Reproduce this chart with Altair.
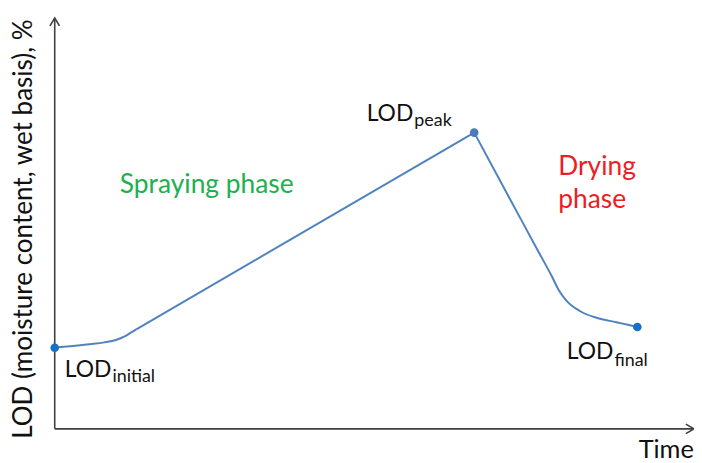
import altair as alt
import pandas as pd

# ---- data (schematic units: time 0..100, LOD in % of peak) ----
# pieces of the curve: initial warm-up, spraying ramp, fast drying, drying decay
curve_seg = ["a"] * 8 + ["b"] * 2 + ["c"] * 2 + ["d"] * 10
curve_time = [0.0, 2.6, 6.0, 8.5, 10.5, 12.0, 13.0, 14.0,
              14.0, 72.0,
              72.0, 80.0,
              80.0, 82.8, 85.3, 86.5, 87.9, 90.2, 93.0, 96.4, 98.2, 100.0]
curve_lod = [27.4, 27.9, 28.6, 29.2, 30.0, 31.2, 32.4, 33.6,
             33.6, 100.0,
             100.0, 70.8,
             70.8, 60.6, 51.6, 46.9, 43.1, 39.7, 37.5, 36.0, 35.2, 34.4]

key_names = ["initial", "peak", "final"]
key_time = [0.0, 72.0, 100.0]
key_lod = [27.4, 100.0, 34.4]
key_colors = ["#1870c4", "#4b7bbd", "#1870c4"]

# label anchors (joint between "LOD" and its subscript)
lab_time = [9.73, 61.55, 95.90]
lab_lod_main = [17.35, 104.03, 23.49]
lab_lod_sub = [15.77, 102.35, 21.24]

phase_text = ["Spraying phase", "Drying", "phase"]
phase_time = [26.09, 86.43, 86.43]
phase_lod = [79.63, 85.57, 74.50]
phase_color = ["#20b04e", "#ee1c25", "#ee1c25"]
phase_align = ["center", "left", "left"]

x_title = "Time"
y_title = "LOD (moisture content, wet basis), %"

X_DOM = [-8.0205, 109.727]
Y_DOM = [-11.074, 141.611]
FONT = "Lato"
AXC = "#404040"

xs = alt.Scale(domain=X_DOM, nice=False, zero=False)
ys = alt.Scale(domain=Y_DOM, nice=False, zero=False)

def X(f):
    return alt.X(f, type="quantitative", scale=xs, axis=None)

def Y(f):
    return alt.Y(f, type="quantitative", scale=ys, axis=None)

curve_df = pd.DataFrame({"seg": curve_seg, "t": curve_time, "lod": curve_lod,
                         "o": range(len(curve_time))})
key_df = pd.DataFrame({"name": key_names, "t": key_time, "lod": key_lod, "c": key_colors,
                       "lt": lab_time, "lm": lab_lod_main, "ls": lab_lod_sub})
phase_df = pd.DataFrame({"txt": phase_text, "t": phase_time, "lod": phase_lod,
                         "c": phase_color, "a": phase_align})

# axes with arrows
axis_df = pd.DataFrame({"t": [0.0, 0.0], "lod": [0.0, 0.0],
                        "t2": [0.0, 109.7], "lod2": [138.69, 0.0],
                        "ang": [0, 90]})

axis_lines = alt.Chart(axis_df).mark_rule(color=AXC, strokeWidth=1.6).encode(
    x=X("t"), y=Y("lod"), x2="t2", y2="lod2")

arrow = alt.Chart(axis_df).mark_point(
    shape="M -0.6 1 L 0 0 L 0.6 1", filled=False, color=AXC, strokeWidth=1.6,
    size=256, opacity=1).encode(
    x=X("t2"), y=Y("lod2"), angle=alt.Angle("ang:Q", scale=None))

line = alt.Chart(curve_df).mark_line(color="#5082c0", strokeWidth=2, interpolate="monotone").encode(
    x=X("t"), y=Y("lod"), detail="seg:N", order="o:Q")

dots = alt.Chart(key_df).mark_circle(size=75, opacity=1).encode(
    x=X("t"), y=Y("lod"), color=alt.Color("c:N", scale=None))

lod_main = alt.Chart(key_df).mark_text(
    text="LOD", align="right", baseline="alphabetic", font=FONT, fontSize=23,
    color="#111111").encode(x=X("lt"), y=Y("lm"))

lod_sub = alt.Chart(key_df).mark_text(
    align="left", baseline="alphabetic", font=FONT, fontSize=18, dx=1,
    color="#111111").encode(x=X("lt"), y=Y("ls"), text="name:N")

phase_layers = []
for i in range(len(phase_text)):
    sub = phase_df.iloc[[i]]
    phase_layers.append(alt.Chart(sub).mark_text(
        align=phase_align[i], baseline="alphabetic", font=FONT, fontSize=26.5,
        color=phase_color[i]).encode(x=X("t"), y=Y("lod"), text="txt:N"))

title_df = pd.DataFrame({"txt": [x_title, y_title], "t": [109.7, -5.3], "lod": [-10.0, 67.45]})
x_title_mark = alt.Chart(title_df.iloc[[0]]).mark_text(
    align="right", baseline="alphabetic", font=FONT, fontSize=25.5, color="#111111").encode(
    x=X("t"), y=Y("lod"), text="txt:N")
y_title_mark = alt.Chart(title_df.iloc[[1]]).mark_text(
    align="center", baseline="middle", angle=270, font=FONT, fontSize=26.2, color="#111111").encode(
    x=X("t"), y=Y("lod"), text="txt:N")

chart = alt.layer(
    axis_lines, arrow, line, dots, lod_main, lod_sub, *phase_layers, x_title_mark, y_title_mark
).properties(
    width=690, height=455, padding=0,
    autosize=alt.AutoSizeParams(type="none"),
    background="white",
).configure_view(stroke=None)

chart.save("out.html", embed_options={"renderer": "svg", "actions": False})
